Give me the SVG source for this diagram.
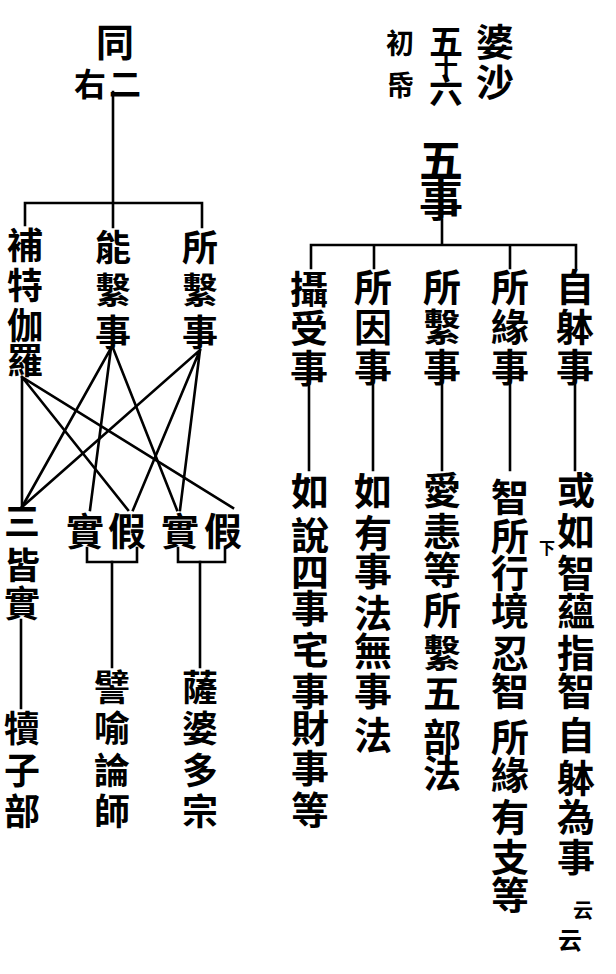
<svg xmlns="http://www.w3.org/2000/svg" width="616" height="974" viewBox="0 0 616 974">
<style>
text{font-family:"Noto Sans CJK TC","Noto Sans CJK JP","Noto Sans CJK SC",sans-serif;font-weight:700;fill:#000;text-anchor:middle}
.f38{font-size:38px}
.f36{font-size:36px}
.f44{font-size:44px}
.f32{font-size:32px}
.f28{font-size:28px}
.ln{stroke:#000;stroke-width:2.6;fill:none;stroke-linecap:square}
</style>
<rect width="616" height="974" fill="#fff"/>
<g id="connectors" class="ln">
<path d="M442 220V245M311 245H576M311 245V268M374 245V268M510 245V268M576 245V268"/>
<path d="M309 385V470M373 385V470M442 385V470M510 385V470M575 385V470"/>
<path d="M113 92V203M25 203H202M25 203V225M113 203V227M202 203V227"/>
<path d="M22 377V507M22 377L128 510M22 377L233 508"/>
<path d="M111 348L22 507M111 348L90 510M113 348L177 510"/>
<path d="M200 350L22 507M200 350L133 510M200 350L180 510"/>
<path d="M87 548V562H137V548M178 548V562H225V548"/>
<path d="M112 562V667M200 562V667M21 620V708"/>
</g>
<g id="title-right">
<text class="f38"><tspan x="495" y="56">婆</tspan><tspan x="495" y="96">沙</tspan></text>
<text><tspan x="446" y="54" font-size="34">五</tspan><tspan x="446" y="75" font-size="24">十</tspan><tspan x="446" y="103" font-size="34">六</tspan></text>
<text class="f28"><tspan x="400" y="54">初</tspan><tspan x="400" y="96">帋</tspan></text>
</g>
<g id="node-wushi"><text class="f44"><tspan x="441" y="177">五</tspan><tspan x="441" y="217">事</tspan></text></g>
<g id="node-sheshou"><text class="f38"><tspan x="309" y="303">攝</tspan><tspan x="309" y="342">受</tspan><tspan x="309" y="382">事</tspan></text></g>
<g id="node-suoyin"><text class="f38"><tspan x="373" y="301">所</tspan><tspan x="373" y="341">因</tspan><tspan x="373" y="381">事</tspan></text></g>
<g id="node-suoxi-r"><text class="f38"><tspan x="442" y="301">所</tspan><tspan x="442" y="341">繫</tspan><tspan x="442" y="381">事</tspan></text></g>
<g id="node-suoyuan"><text class="f38"><tspan x="510" y="301">所</tspan><tspan x="510" y="341">緣</tspan><tspan x="510" y="381">事</tspan></text></g>
<g id="node-ziti"><text class="f38"><tspan x="575" y="301">自</tspan><tspan x="575" y="341">躰</tspan><tspan x="575" y="381">事</tspan></text></g>
<g id="note-ziti">
<text class="f38"><tspan x="576" y="504">或</tspan><tspan x="576" y="545">如</tspan><tspan x="576" y="587">智</tspan><tspan x="576" y="625">蘊</tspan><tspan x="576" y="667">指</tspan><tspan x="576" y="705">智</tspan><tspan x="576" y="749">自</tspan><tspan x="576" y="792">躰</tspan><tspan x="576" y="831">為</tspan><tspan x="576" y="871">事</tspan></text>
<text x="547" y="554" font-size="16">下</text>
<text><tspan x="583" y="918" font-size="20">云</tspan><tspan x="570" y="949" font-size="24">云</tspan></text>
</g>
<g id="note-suoyuan"><text class="f38"><tspan x="510" y="511">智</tspan><tspan x="510" y="550">所</tspan><tspan x="510" y="587">行</tspan><tspan x="510" y="625">境</tspan><tspan x="510" y="667">忍</tspan><tspan x="510" y="705">智</tspan><tspan x="510" y="751">所</tspan><tspan x="510" y="789">緣</tspan><tspan x="510" y="831">有</tspan><tspan x="510" y="871">支</tspan><tspan x="510" y="909">等</tspan></text></g>
<g id="note-suoxi"><text class="f38"><tspan x="442" y="504">愛</tspan><tspan x="442" y="545">恚</tspan><tspan x="442" y="584">等</tspan><tspan x="442" y="624">所</tspan><tspan x="442" y="667">繫</tspan><tspan x="442" y="707">五</tspan><tspan x="442" y="751">部</tspan><tspan x="442" y="787">法</tspan></text></g>
<g id="note-suoyin"><text class="f38"><tspan x="373" y="505">如</tspan><tspan x="373" y="547">有</tspan><tspan x="373" y="585">事</tspan><tspan x="373" y="627">法</tspan><tspan x="373" y="665">無</tspan><tspan x="373" y="705">事</tspan><tspan x="373" y="749">法</tspan></text></g>
<g id="note-sheshou"><text class="f38"><tspan x="310" y="505">如</tspan><tspan x="310" y="549">說</tspan><tspan x="310" y="586">四</tspan><tspan x="310" y="622">事</tspan><tspan x="310" y="664">宅</tspan><tspan x="310" y="705">事</tspan><tspan x="310" y="742">財</tspan><tspan x="310" y="782">事</tspan><tspan x="310" y="824">等</tspan></text></g>
<g id="title-left">
<text class="f38" x="115" y="56">同</text>
<text class="f32"><tspan x="90" y="96">右</tspan><tspan x="125" y="96">二</tspan></text>
</g>
<g id="node-butejialuo"><text class="f36"><tspan x="25" y="259">補</tspan><tspan x="25" y="299">特</tspan><tspan x="25" y="339">伽</tspan><tspan x="25" y="374">羅</tspan></text></g>
<g id="node-nengxi"><text class="f36"><tspan x="113" y="261">能</tspan><tspan x="113" y="304">繫</tspan><tspan x="113" y="346">事</tspan></text></g>
<g id="node-suoxi-l"><text class="f36"><tspan x="200" y="261">所</tspan><tspan x="200" y="304">繫</tspan><tspan x="200" y="346">事</tspan></text></g>
<g id="node-sanjieshi"><text class="f36"><tspan x="22" y="535">三</tspan><tspan x="22" y="579">皆</tspan><tspan x="22" y="617">實</tspan></text></g>
<g id="node-shi1"><text class="f38" x="85" y="545">實</text></g>
<g id="node-jia1"><text class="f38" x="127" y="545">假</text></g>
<g id="node-shi2"><text class="f38" x="180" y="545">實</text></g>
<g id="node-jia2"><text class="f38" x="223" y="545">假</text></g>
<g id="node-duzibu"><text class="f36"><tspan x="22" y="742">犢</tspan><tspan x="22" y="784">子</tspan><tspan x="22" y="825">部</tspan></text></g>
<g id="node-piyu"><text class="f36"><tspan x="112" y="701">譬</tspan><tspan x="112" y="742">喻</tspan><tspan x="112" y="784">論</tspan><tspan x="112" y="825">師</tspan></text></g>
<g id="node-sapoduo"><text class="f36"><tspan x="200" y="701">薩</tspan><tspan x="200" y="742">婆</tspan><tspan x="200" y="784">多</tspan><tspan x="200" y="825">宗</tspan></text></g>
</svg>
